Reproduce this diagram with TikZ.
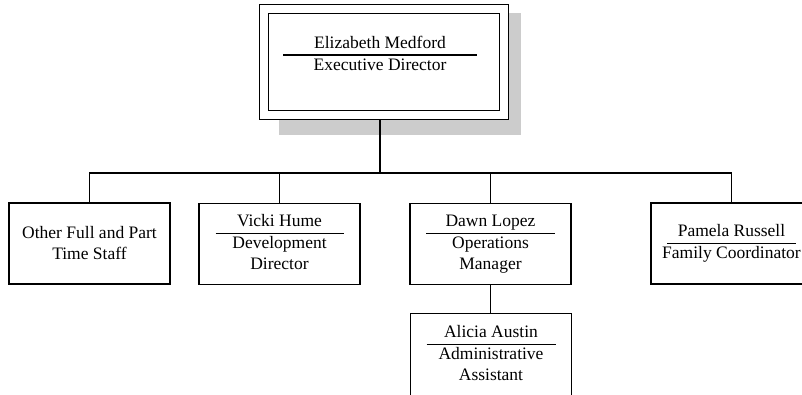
\documentclass[tikz,border=0pt]{standalone}
\usepackage{fontspec}
\setmainfont{Liberation Serif}
\usepackage{array}
\setlength{\arrayrulewidth}{1.2pt}
\newcommand{\post}[3]{\begin{tabular}{@{}>{\centering\arraybackslash}p{#1}@{}}#2\\\hline #3\end{tabular}}

\begin{document}
\begin{tikzpicture}[x=1pt,y=-1pt,line width=1.2pt,
    font=\fontsize{17.5}{21}\selectfont,
    staffbox/.style={draw,fill=white,minimum width=161pt,minimum height=81pt,inner sep=0pt}]
      \useasboundingbox (0,0) rectangle (802,394);
      % director box with its shadow
      \fill[black!20] (279,13) rectangle (521,135);
      \node[draw,fill=white,double=white,double distance=8pt,line width=1.1pt,
        outer sep=5.1pt,minimum width=240pt,minimum height=106pt] (ed) at (384,62) {};
      \node (edtext) at (380,55) {\post{194pt}{Elizabeth Medford}{Executive Director}};
      % staff row
      \node[staffbox,align=center] (other) at (89.5,243.5) {Other Full and Part\\Time Staff};
      \node[staffbox] (vicki) at (279.5,244) {\post{128pt}{Vicki Hume}{Development\\Director}};
      \node[staffbox] (dawn) at (490.5,244) {\post{129pt}{Dawn Lopez}{Operations\\Manager}};
      \node[staffbox] (pam) at (731.5,243.5) {\post{129pt}{Pamela Russell}{\makebox[129pt]{Family Coordinator}}};
      \node[staffbox,minimum height=83pt] (alicia) at (491,355) {\post{129pt}{Alicia Austin}{Administrative\\Assistant}};
      % connectors
      \coordinate (bar) at (380,173);
      \draw (ed.south -| edtext.center) -- (bar);
      \draw (other.north) |- (bar) -| (pam.north);
      \foreach \n in {vicki,dawn} {
        \draw (\n.north) |- (bar);
      }
      \draw (dawn.south) -- (alicia.north -| dawn.south);
\end{tikzpicture}
\end{document}
